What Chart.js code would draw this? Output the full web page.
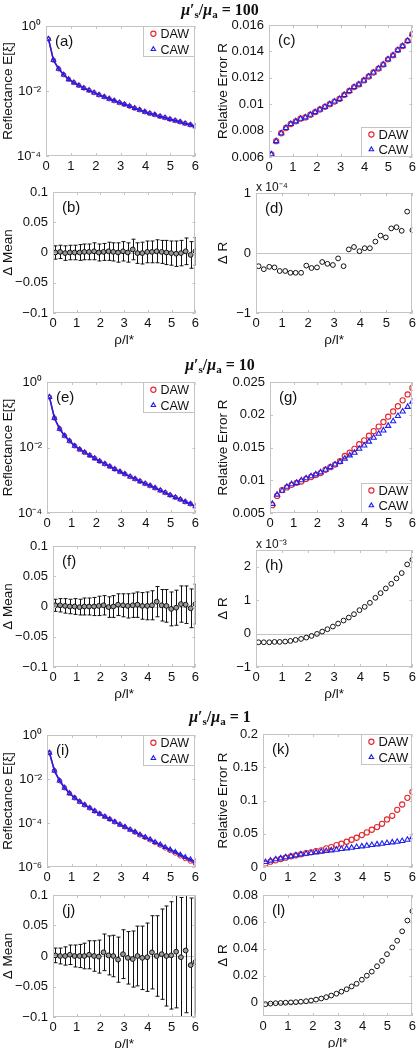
<!DOCTYPE html>
<html lang="en">
<head>
<meta charset="UTF-8">
<title>DAW vs CAW - reflectance and relative error</title>
<script src="https://cdn.jsdelivr.net/npm/chart.js"></script>
<style>
    body { margin: 0; background: #fff; }
    #fig { position: relative; width: 419px; height: 1048px; overflow: hidden; }
    .panel { position: absolute; }
    .ttl {
        position: absolute; left: 120px; width: 200px; text-align: center;
        font: bold 16px "Liberation Serif", serif; line-height: 18px; color: #111;
    }
    .ttl sub { font-size: 11px; vertical-align: -3px; line-height: 0; }
</style>
</head>
<body>
<div id="fig">
    <div class="ttl" style="top:1px"><i>μ</i>′<sub>s</sub>/<i>μ</i><sub>a</sub> = 100</div>
    <div class="ttl" style="top:356px"><i>μ</i>′<sub>s</sub>/<i>μ</i><sub>a</sub> = 10</div>
    <div class="ttl" style="top:708px"><i>μ</i>′<sub>s</sub>/<i>μ</i><sub>a</sub> = 1</div>
</div>

<script>
    // source-detector distance, rho / l*
    const rho = [0.10, 0.30, 0.51, 0.71, 0.91, 1.12, 1.32, 1.52, 1.73, 1.93, 2.13, 2.34, 2.54, 2.74, 2.95,
                 3.15, 3.36, 3.56, 3.76, 3.97, 4.17, 4.37, 4.58, 4.78, 4.98, 5.19, 5.39, 5.59, 5.80, 6.00];
    const xTicks = [0, 1, 2, 3, 4, 5, 6];

    // mu_s'/mu_a = 100
    const refl100DAW = [0.398, 0.0891, 0.0479, 0.0316, 0.0229, 0.0182, 0.0148, 0.0123, 0.0105, 0.00891,
                        0.00759, 0.00661, 0.00575, 0.00501, 0.00437, 0.00389, 0.00339, 0.00295, 0.00263, 0.00229,
                        0.00204, 0.00186, 0.00166, 0.00151, 0.00135, 0.00123, 0.00112, 0.00100, 0.00091, 0.00081];
    const refl100CAW = [0.398, 0.0891, 0.0479, 0.0316, 0.0229, 0.0182, 0.0148, 0.0123, 0.0105, 0.00891,
                        0.00759, 0.00661, 0.00575, 0.00501, 0.00437, 0.00389, 0.00339, 0.00295, 0.00263, 0.00229,
                        0.00204, 0.00186, 0.00166, 0.00151, 0.00135, 0.00123, 0.00112, 0.00100, 0.00091, 0.00081];
    const err100DAW = [0.0062, 0.0072, 0.0078, 0.0082, 0.0085, 0.0087, 0.0089, 0.0090, 0.0092, 0.0094,
                       0.0096, 0.0098, 0.0100, 0.0102, 0.0104, 0.0107, 0.0110, 0.0113, 0.0115, 0.0118,
                       0.0121, 0.0124, 0.0127, 0.0130, 0.0134, 0.0137, 0.0141, 0.0144, 0.0148, 0.0153];
    const err100CAW = [0.0062, 0.0072, 0.0078, 0.0082, 0.0085, 0.0087, 0.0089, 0.0090, 0.0092, 0.0094,
                       0.0096, 0.0098, 0.0100, 0.0102, 0.0104, 0.0107, 0.0110, 0.0113, 0.0115, 0.0118,
                       0.0121, 0.0124, 0.0127, 0.0130, 0.0134, 0.0137, 0.0141, 0.0144, 0.0148, 0.0153];
    const mean100 = [0, 0.001, -0.001, 0, 0, 0, 0.001, 0.001, 0.002, 0, 0.001, 0.002, 0.001, 0, 0.002,
                     0, 0.005, -0.001, -0.001, 0.001, 0.001, 0.002, 0.001, 0, -0.001, -0.002, -0.001, 0.002, -0.004, 0.002];
    const sd100 = [0.011, 0.011, 0.012, 0.012, 0.012, 0.013, 0.013, 0.013, 0.014, 0.014, 0.014, 0.015, 0.015, 0.016, 0.016,
                   0.016, 0.017, 0.017, 0.018, 0.018, 0.018, 0.019, 0.019, 0.020, 0.020, 0.021, 0.021, 0.022, 0.022, 0.023];
    const dR100 = [-0.22, -0.27, -0.23, -0.24, -0.30, -0.30, -0.33, -0.33, -0.33, -0.21, -0.25, -0.24, -0.15, -0.18, -0.20,
                   -0.09, -0.22, 0.06, 0.10, 0.03, 0.08, 0.08, 0.19, 0.29, 0.26, 0.41, 0.43, 0.37, 0.69, 0.38]; // x 1e-4

    // mu_s'/mu_a = 10
    const refl10DAW = [0.347, 0.0794, 0.0372, 0.0229, 0.0158, 0.0112, 0.00871, 0.00708, 0.00575, 0.00468,
                       0.00380, 0.00316, 0.00263, 0.00219, 0.00182, 0.00155, 0.00129, 0.00110, 0.00093, 0.00079,
                       0.00068, 0.00058, 0.00049, 0.00042, 0.00035, 0.00030, 0.00026, 0.00022, 0.00019, 0.00016];
    const refl10CAW = [0.347, 0.0794, 0.0372, 0.0229, 0.0158, 0.0112, 0.00871, 0.00708, 0.00575, 0.00468,
                       0.00380, 0.00316, 0.00263, 0.00219, 0.00182, 0.00155, 0.00129, 0.00110, 0.00093, 0.00079,
                       0.00068, 0.00058, 0.00049, 0.00042, 0.00035, 0.00030, 0.00026, 0.00022, 0.00019, 0.00016];
    const err10DAW = [0.0062, 0.0076, 0.0085, 0.0089, 0.0093, 0.0096, 0.0098, 0.0102, 0.0105, 0.0108,
                      0.0111, 0.0116, 0.0120, 0.0124, 0.0129, 0.0137, 0.0142, 0.0148, 0.0155, 0.0161,
                      0.0168, 0.0175, 0.0182, 0.0189, 0.0197, 0.0205, 0.0213, 0.0222, 0.0231, 0.0241];
    const err10CAW = [0.0064, 0.0078, 0.0084, 0.0090, 0.0094, 0.0096, 0.0100, 0.0103, 0.0106, 0.0109,
                      0.0112, 0.0116, 0.0120, 0.0124, 0.0128, 0.0133, 0.0138, 0.0142, 0.0148, 0.0153,
                      0.0159, 0.0165, 0.0171, 0.0176, 0.0183, 0.0190, 0.0198, 0.0205, 0.0212, 0.0220];
    const mean10 = [0.002, 0.002, 0.001, 0, 0, -0.001, 0, 0, 0, 0.001, 0.002, -0.001, 0, 0.003, 0.002,
                    0.001, 0.002, 0.003, 0.001, 0.001, 0.002, 0.008, 0.002, 0.001, -0.004, -0.002, 0.004, 0.003, -0.003, 0.004];
    const sd10 = [0.010, 0.011, 0.012, 0.012, 0.013, 0.013, 0.014, 0.014, 0.015, 0.016, 0.016, 0.017, 0.018, 0.018, 0.019,
                  0.020, 0.020, 0.021, 0.022, 0.023, 0.024, 0.025, 0.026, 0.027, 0.028, 0.029, 0.030, 0.031, 0.032, 0.033];
    const dR10 = [-0.26, -0.26, -0.26, -0.25, -0.25, -0.24, -0.22, -0.19, -0.16, -0.12, -0.07, -0.01, 0.06, 0.13, 0.21,
                  0.30, 0.39, 0.48, 0.58, 0.70, 0.80, 0.92, 1.07, 1.21, 1.35, 1.49, 1.65, 1.81, 2.07, 2.21]; // x 1e-3

    // mu_s'/mu_a = 1
    const refl1DAW = [0.155, 0.0240, 0.00832, 0.00398, 0.00224, 0.00138, 0.00093, 0.00066, 0.00048, 0.00035,
                      0.00026, 0.000195, 0.000148, 0.000112, 8.5e-5, 6.6e-5, 5.0e-5, 3.8e-5, 2.85e-5, 2.2e-5,
                      1.7e-5, 1.28e-5, 9.8e-6, 7.3e-6, 5.6e-6, 4.3e-6, 3.2e-6, 2.4e-6, 1.85e-6, 1.45e-6];
    const refl1CAW = [0.155, 0.0240, 0.00832, 0.00398, 0.00224, 0.00138, 0.00093, 0.00066, 0.00048, 0.00035,
                      0.00026, 0.000195, 0.000148, 0.000112, 8.5e-5, 6.6e-5, 5.0e-5, 3.9e-5, 2.95e-5, 2.29e-5,
                      1.78e-5, 1.35e-5, 1.05e-5, 7.9e-6, 6.2e-6, 4.8e-6, 3.6e-6, 2.8e-6, 2.2e-6, 1.8e-6];
    const err1DAW = [0.005, 0.008, 0.010, 0.012, 0.014, 0.016, 0.0176, 0.019, 0.021, 0.022,
                     0.024, 0.025, 0.028, 0.030, 0.033, 0.035, 0.038, 0.041, 0.044, 0.048,
                     0.052, 0.056, 0.060, 0.065, 0.0715, 0.077, 0.086, 0.094, 0.104, 0.113];
    const err1CAW = [0.0075, 0.0096, 0.0116, 0.013, 0.0146, 0.016, 0.0176, 0.019, 0.020, 0.021,
                     0.022, 0.023, 0.024, 0.025, 0.026, 0.027, 0.028, 0.029, 0.030, 0.031,
                     0.032, 0.033, 0.034, 0.035, 0.036, 0.037, 0.038, 0.039, 0.041, 0.045];
    const mean1 = [0.001, 0, 0, 0.002, 0, 0, 0, 0.002, 0, -0.001, 0.006, 0.001, 0, -0.006, 0.003,
                   -0.003, -0.005, 0, -0.003, -0.002, 0.006, 0, 0.003, 0, 0.001, 0.007, -0.002, 0.009, -0.015, -0.010];
    const sd1 = [0.012, 0.013, 0.015, 0.016, 0.018, 0.019, 0.021, 0.023, 0.025, 0.027, 0.030, 0.032, 0.034, 0.037, 0.040,
                 0.043, 0.046, 0.049, 0.052, 0.056, 0.060, 0.066, 0.074, 0.082, 0.088, 0.092, 0.098, 0.102, 0.110, 0.120];
    const dR1 = [-0.0012, -0.0008, -0.0005, -0.0003, -0.0001, 0.0001, 0.0003, 0.0006, 0.0010, 0.0015,
                 0.0022, 0.0030, 0.0040, 0.0052, 0.0066, 0.0081, 0.0099, 0.012, 0.014, 0.017,
                 0.020, 0.023, 0.027, 0.031, 0.036, 0.041, 0.046, 0.053, 0.061, 0.068];

    // axis ticks
    const logTicks4 = [1e-4, 1e-2, 1], logLabels4 = ['10⁻⁴', '10⁻²', '10⁰'];
    const logTicks6 = [1e-6, 1e-4, 1e-2, 1], logLabels6 = ['10⁻⁶', '10⁻⁴', '10⁻²', '10⁰'];
    const meanTicks = [-0.1, -0.05, 0, 0.05, 0.1], meanLabels = ['−0.1', '−0.05', '0', '0.05', '0.1'];
    const errTicks100 = [0.006, 0.008, 0.01, 0.012, 0.014, 0.016];
    const errLabels100 = ['0.006', '0.008', '0.01', '0.012', '0.014', '0.016'];
    const errTicks10 = [0.005, 0.01, 0.015, 0.02, 0.025];
    const errLabels10 = ['0.005', '0.01', '0.015', '0.02', '0.025'];
    const errTicks1 = [0, 0.05, 0.1, 0.15, 0.2], errLabels1 = ['0', '0.05', '0.1', '0.15', '0.2'];
    const dRTicks100 = [-1, 0, 1], dRLabels100 = ['−1', '0', '1'];
    const dRTicks10 = [-1, 0, 1, 2], dRLabels10 = ['−1', '0', '1', '2'];
    const dRTicks1 = [0, 0.02, 0.04, 0.06, 0.08], dRLabels1 = ['0', '0.02', '0.04', '0.06', '0.08'];

    const red = '#e3262b', blue = '#1f1fee', ink = '#111', frameCol = '#c4c4c4';
    const tickFont = { family: 'Liberation Sans', size: 13 };
    const titleFont = { family: 'Liberation Sans', size: 13.5 };

    const pts = ys => rho.map((x, i) => ({ x: x, y: ys[i] }));

    const decoPlugin = {
        id: 'deco',
        beforeDatasetsDraw(chart, args, o) {
            const { ctx, chartArea: a, scales: { x, y } } = chart;
            ctx.save();
            ctx.beginPath();
            ctx.rect(a.left, a.top, a.width, a.height);
            ctx.clip();
            ctx.lineWidth = 1;
            if (o.zero) {
                const py = Math.round(y.getPixelForValue(0)) + 0.5;
                ctx.strokeStyle = frameCol;
                ctx.beginPath();
                ctx.moveTo(a.left, py);
                ctx.lineTo(a.right, py);
                ctx.stroke();
            }
            if (o.err) {
                ctx.strokeStyle = '#111';
                chart.data.datasets[0].data.forEach((p, i) => {
                    const px = Math.round(x.getPixelForValue(p.x)) + 0.5;
                    const lo = y.getPixelForValue(p.y - o.err[i]);
                    const hi = y.getPixelForValue(p.y + o.err[i]);
                    ctx.beginPath();
                    ctx.moveTo(px, lo); ctx.lineTo(px, hi);
                    ctx.moveTo(px - 2, lo); ctx.lineTo(px + 2, lo);
                    ctx.moveTo(px - 2, hi); ctx.lineTo(px + 2, hi);
                    ctx.stroke();
                });
            }
            ctx.restore();
        },
        afterDatasetsDraw(chart, args, o) {
            const { ctx, chartArea: a, scales: { x, y } } = chart;
            ctx.save();
            // box and inward ticks
            ctx.strokeStyle = frameCol;
            ctx.lineWidth = 1;
            ctx.strokeRect(Math.round(a.left) + 0.5, Math.round(a.top) + 0.5,
                           Math.round(a.width) - 1, Math.round(a.height) - 1);
            ctx.beginPath();
            x.ticks.forEach(t => {
                const px = Math.round(x.getPixelForValue(t.value)) + 0.5;
                ctx.moveTo(px, a.bottom); ctx.lineTo(px, a.bottom - 3);
                ctx.moveTo(px, a.top); ctx.lineTo(px, a.top + 3);
            });
            y.ticks.forEach(t => {
                const py = Math.round(y.getPixelForValue(t.value)) + 0.5;
                ctx.moveTo(a.left, py); ctx.lineTo(a.left + 3, py);
                ctx.moveTo(a.right, py); ctx.lineTo(a.right - 3, py);
            });
            ctx.stroke();

            // panel letter
            ctx.fillStyle = ink;
            ctx.font = '15px "Liberation Sans"';
            ctx.textBaseline = 'middle';
            ctx.textAlign = 'left';
            ctx.fillText(o.label, a.left + 9, a.top + 16);

            // axis multiplier
            if (o.exp) {
                ctx.font = '12px "Liberation Sans"';
                ctx.textBaseline = 'bottom';
                ctx.fillText(o.exp, a.left, a.top + 1);
            }

            // legend
            if (o.legend) {
                const L = o.legend;
                const bx = a.right - L.w;
                const by = L.corner === 'tr' ? a.top : a.bottom - L.h;
                ctx.fillStyle = '#fff';
                ctx.fillRect(bx, by, L.w, L.h);
                ctx.strokeStyle = frameCol;
                ctx.strokeRect(Math.round(bx) + 0.5, Math.round(by) + 0.5, L.w - 1, L.h - 1);
                chart.data.datasets.forEach((ds, i) => {
                    const cy = by + L.h * (2 * i + 1) / 4;
                    ctx.strokeStyle = ds.pointBorderColor;
                    ctx.fillStyle = 'rgba(0,0,0,0)';
                    ctx.lineWidth = 1.1;
                    Chart.helpers.drawPoint(ctx, {
                        pointStyle: ds.pointStyle, radius: 2.6, rotation: 0, borderWidth: 1.1
                    }, bx + 10, cy);
                    ctx.fillStyle = ink;
                    ctx.font = L.font + 'px "Liberation Sans"';
                    ctx.textBaseline = 'middle';
                    ctx.fillText(ds.label, bx + 17, cy + 1);
                });
            }
            ctx.restore();
        }
    };

    function makePanel(g, yCfg, datasets, deco) {
        const padTop = 22;
        const xh = g.xTitle ? 36 : 20;
        const top = g.T - padTop;
        const cv = document.createElement('canvas');
        cv.className = 'panel';
        cv.width = g.R - g.L + 3;
        cv.height = g.B - top + xh;
        cv.style.left = g.L + 'px';
        cv.style.top = top + 'px';
        document.getElementById('fig').insertBefore(cv, document.querySelector('.ttl'));

        new Chart(cv, {
            type: 'scatter',
            data: { datasets: datasets },
            options: {
                responsive: false,
                animation: false,
                layout: { padding: { top: padTop, right: 3, left: 0, bottom: 0 } },
                plugins: { legend: { display: false }, tooltip: { enabled: false }, deco: deco },
                scales: {
                    x: {
                        type: 'linear', min: 0, max: 6,
                        afterBuildTicks: s => { s.ticks = xTicks.map(v => ({ value: v })); },
                        afterFit: s => { s.height = xh; },
                        grid: { display: false, drawTicks: false },
                        border: { display: false },
                        ticks: { font: tickFont, color: ink, padding: 3, maxRotation: 0, autoSkip: false },
                        title: { display: !!g.xTitle, text: 'ρ/l*', font: titleFont, color: ink,
                                 padding: { top: 0, bottom: 1 } }
                    },
                    y: {
                        type: yCfg.type || 'linear', min: yCfg.min, max: yCfg.max,
                        afterBuildTicks: s => { s.ticks = yCfg.ticks.map(v => ({ value: v })); },
                        afterFit: s => { s.width = g.P - g.L; },
                        grid: { display: false, drawTicks: false },
                        border: { display: false },
                        ticks: { font: tickFont, color: ink, padding: 5, autoSkip: false,
                                 callback: (v, i) => yCfg.labels[i] },
                        title: { display: true, text: yCfg.title, font: titleFont, color: ink, padding: 0 }
                    }
                }
            },
            plugins: [decoPlugin]
        });
    }

    function reflSets(daw, caw) {
        return [
            { label: 'DAW', data: pts(daw), showLine: true, borderColor: red, borderWidth: 1.5,
              pointStyle: 'circle', pointRadius: 2.2, pointBorderColor: red, pointBackgroundColor: 'rgba(0,0,0,0)',
              pointBorderWidth: 1, order: 1 },
            { label: 'CAW', data: pts(caw), showLine: true, borderColor: blue, borderWidth: 1.5,
              pointStyle: 'triangle', pointRadius: 2.6, pointBorderColor: blue, pointBackgroundColor: 'rgba(0,0,0,0)',
              pointBorderWidth: 1.1, order: 0 }
        ];
    }
    function errSets(daw, caw) {
        return [
            { label: 'DAW', data: pts(daw), showLine: false,
              pointStyle: 'circle', pointRadius: 2.6, pointBorderColor: red, pointBackgroundColor: 'rgba(0,0,0,0)',
              pointBorderWidth: 1.1, order: 1 },
            { label: 'CAW', data: pts(caw), showLine: false,
              pointStyle: 'triangle', pointRadius: 3, pointBorderColor: blue, pointBackgroundColor: 'rgba(0,0,0,0)',
              pointBorderWidth: 1.1, order: 0 }
        ];
    }
    function meanSet(m) {
        return [{ data: pts(m), showLine: false, pointStyle: 'circle', pointRadius: 2.4,
                  pointBorderColor: '#111', pointBackgroundColor: '#9a9a9a', pointBorderWidth: 1 }];
    }
    function dRSet(d) {
        return [{ data: pts(d), showLine: false, pointStyle: 'circle', pointRadius: 2.4,
                  pointBorderColor: '#111', pointBackgroundColor: 'rgba(0,0,0,0)', pointBorderWidth: 1 }];
    }

    const reflTitle = 'Reflectance E[ξ]', errTitle = 'Relative Error R';

    // mu_s'/mu_a = 100
    makePanel({ L: 0, P: 46, R: 199, T: 26, B: 156 },
        { type: 'logarithmic', min: 1e-4, max: 1, ticks: logTicks4, labels: logLabels4, title: reflTitle },
        reflSets(refl100DAW, refl100CAW), { label: '(a)', legend: { corner: 'tr', w: 52, h: 31, font: 12.5 } });
    makePanel({ L: 0, P: 53, R: 199, T: 192, B: 313, xTitle: true },
        { min: -0.1, max: 0.1, ticks: meanTicks, labels: meanLabels, title: 'Δ Mean' },
        meanSet(mean100), { label: '(b)', err: sd100, zero: true });
    makePanel({ L: 215, P: 269, R: 416, T: 25, B: 157 },
        { min: 0.006, max: 0.016, ticks: errTicks100, labels: errLabels100, title: errTitle },
        errSets(err100DAW, err100CAW), { label: '(c)', legend: { corner: 'br', w: 51, h: 30, font: 13 } });
    makePanel({ L: 215, P: 256, R: 416, T: 193, B: 313, xTitle: true },
        { min: -1, max: 1, ticks: dRTicks100, labels: dRLabels100, title: 'Δ R' },
        dRSet(dR100), { label: '(d)', zero: true, exp: 'x 10⁻⁴' });

    // mu_s'/mu_a = 10
    makePanel({ L: 0, P: 47, R: 199, T: 382, B: 513 },
        { type: 'logarithmic', min: 1e-4, max: 1, ticks: logTicks4, labels: logLabels4, title: reflTitle },
        reflSets(refl10DAW, refl10CAW), { label: '(e)', legend: { corner: 'tr', w: 52, h: 31, font: 12.5 } });
    makePanel({ L: 0, P: 53, R: 199, T: 546, B: 667, xTitle: true },
        { min: -0.1, max: 0.1, ticks: meanTicks, labels: meanLabels, title: 'Δ Mean' },
        meanSet(mean10), { label: '(f)', err: sd10, zero: true });
    makePanel({ L: 215, P: 270, R: 416, T: 382, B: 513 },
        { min: 0.005, max: 0.025, ticks: errTicks10, labels: errLabels10, title: errTitle },
        errSets(err10DAW, err10CAW), { label: '(g)', legend: { corner: 'br', w: 51, h: 30, font: 13 } });
    makePanel({ L: 215, P: 256, R: 416, T: 550, B: 667, xTitle: true },
        { min: -1, max: 2.5, ticks: dRTicks10, labels: dRLabels10, title: 'Δ R' },
        dRSet(dR10), { label: '(h)', zero: true, exp: 'x 10⁻³' });

    // mu_s'/mu_a = 1
    makePanel({ L: 0, P: 47, R: 199, T: 735, B: 867 },
        { type: 'logarithmic', min: 1e-6, max: 1, ticks: logTicks6, labels: logLabels6, title: reflTitle },
        reflSets(refl1DAW, refl1CAW), { label: '(i)', legend: { corner: 'tr', w: 52, h: 31, font: 12.5 } });
    makePanel({ L: 0, P: 53, R: 199, T: 895, B: 1017, xTitle: true },
        { min: -0.1, max: 0.1, ticks: meanTicks, labels: meanLabels, title: 'Δ Mean' },
        meanSet(mean1), { label: '(j)', err: sd1, zero: true });
    makePanel({ L: 215, P: 263, R: 416, T: 734, B: 867 },
        { min: 0, max: 0.2, ticks: errTicks1, labels: errLabels1, title: errTitle },
        errSets(err1DAW, err1CAW), { label: '(k)', legend: { corner: 'tr', w: 51, h: 31, font: 13 } });
    makePanel({ L: 215, P: 263, R: 416, T: 895, B: 1016, xTitle: true },
        { min: -0.01, max: 0.08, ticks: dRTicks1, labels: dRLabels1, title: 'Δ R' },
        dRSet(dR1), { label: '(l)', zero: true });
</script>
</body>
</html>
